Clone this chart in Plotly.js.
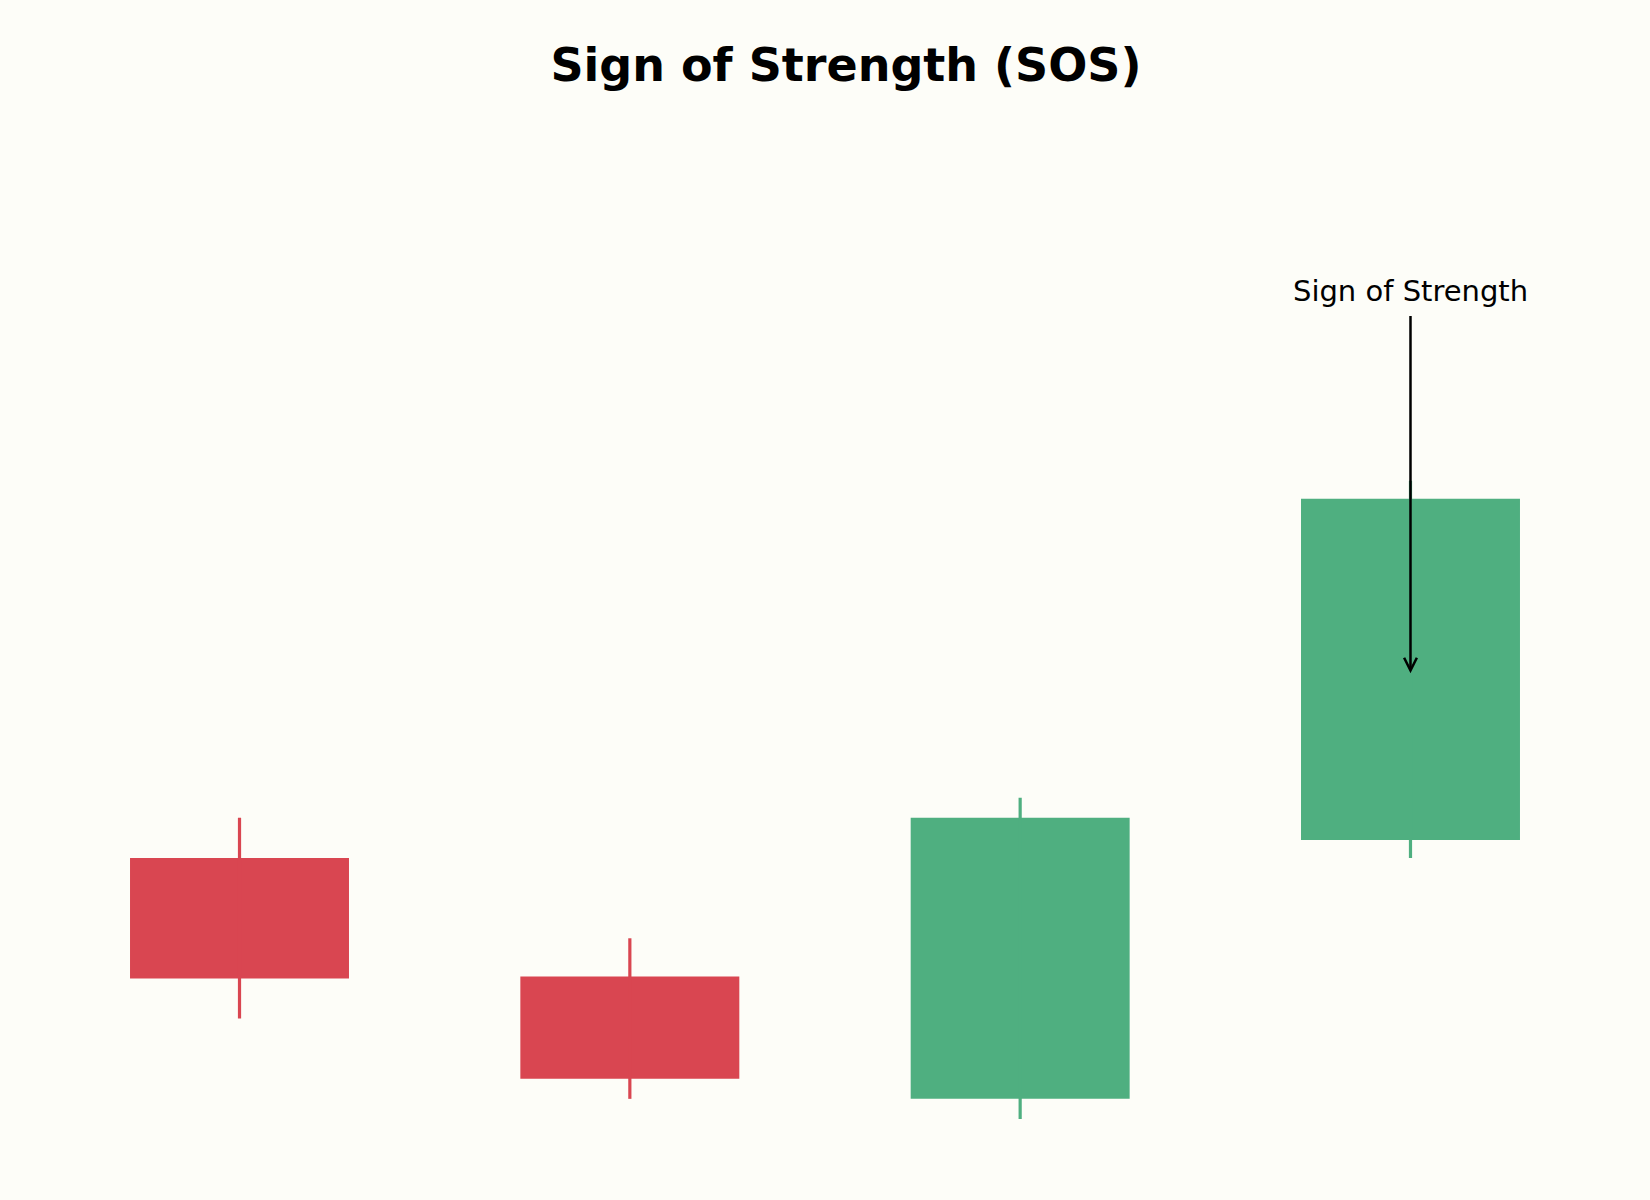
<!DOCTYPE html>
<html>
<head>
<meta charset="utf-8">
<script src="https://cdn.plot.ly/plotly-3.0.1.min.js"></script>
<style>
body { margin: 0; background: #fdfdf8; }
</style>
</head>
<body>
<div id="chart"></div>
<script>
// candles
var candle = [0, 1, 2, 3];
var openP  = [105, 99.1, 93, 105.9];
var highP  = [107, 101, 108, 123.8];
var lowP   = [97, 93, 92, 105];
var closeP = [99, 94, 107, 122.9];

var upColor = '#4faf80';
var downColor = '#d94651';

var bodyBase = [];
var bodyLen = [];
var colors = [];
for (var i = 0; i < candle.length; i++) {
  bodyBase.push(Math.min(openP[i], closeP[i]));
  bodyLen.push(Math.abs(closeP[i] - openP[i]));
  colors.push(closeP[i] >= openP[i] ? upColor : downColor);
}

var data = [];

// wicks first, same colour as body so the overlap doesn't show
for (var i = 0; i < candle.length; i++) {
  data.push({
    x: [candle[i], candle[i]],
    y: [lowP[i], highP[i]],
    type: 'scatter',
    mode: 'lines',
    line: {color: colors[i], width: 3.2},
    hoverinfo: 'skip',
    showlegend: false
  });
}

data.push({
  x: candle,
  y: bodyLen,
  base: bodyBase,
  type: 'bar',
  width: 0.561,
  marker: {color: colors, line: {width: 0}},
  showlegend: false
});

var layout = {
  width: 1650,
  height: 1200,
  paper_bgcolor: '#fdfdf8',
  plot_bgcolor: '#fdfdf8',
  margin: {l: 0, r: 0, t: 0, b: 0},
  font: {family: 'DejaVu Sans', color: '#000'},
  title: {
    text: '<b>Sign of Strength (SOS)</b>',
    font: {family: 'DejaVu Sans', size: 46, color: '#000'},
    x: 0.5127, xanchor: 'center',
    y: 0.9458, yanchor: 'middle', yref: 'container'
  },
  xaxis: {range: [-0.6136, 3.6136], showgrid: false, zeroline: false, showticklabels: false, ticks: '', showline: false, fixedrange: true},
  yaxis: {range: [87.96, 147.75], showgrid: false, zeroline: false, showticklabels: false, ticks: '', showline: false, fixedrange: true},
  annotations: [
    {
      x: 3, y: 133.25, xref: 'x', yref: 'y',
      text: 'Sign of Strength',
      showarrow: false,
      font: {family: 'DejaVu Sans', size: 29, color: '#000'},
      xanchor: 'center', yanchor: 'middle'
    },
    {
      x: 3, y: 114.2, xref: 'x', yref: 'y',
      ax: 3, ay: 132.1, axref: 'x', ayref: 'y',
      text: ' ',
      font: {size: 1},
      showarrow: true,
      arrowhead: 5,
      arrowsize: 1,
      arrowwidth: 2.5,
      arrowcolor: '#000',
      standoff: 0,
      startstandoff: 0
    }
  ]
};

Plotly.newPlot('chart', data, layout, {displayModeBar: false, staticPlot: true});
</script>
</body>
</html>
